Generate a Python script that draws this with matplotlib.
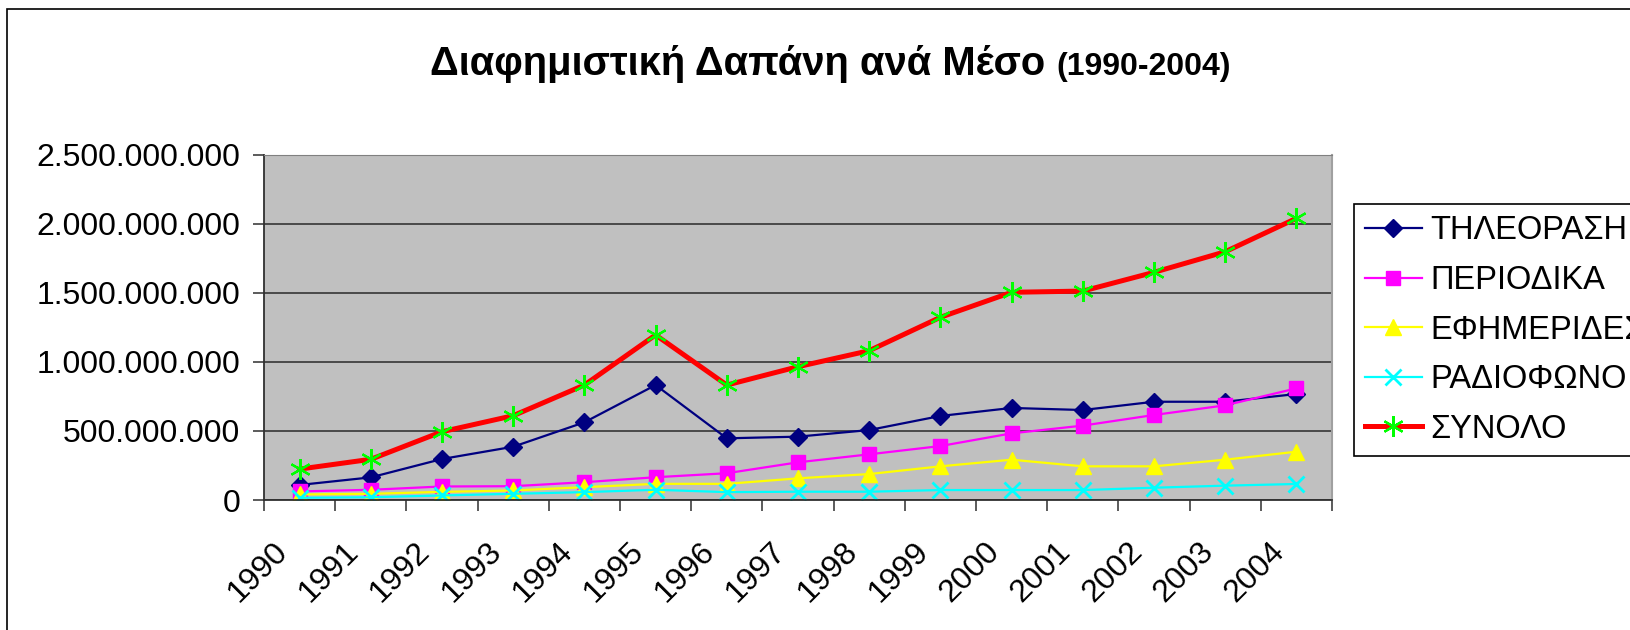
import matplotlib
matplotlib.use("Agg")
import matplotlib.pyplot as plt
import matplotlib.transforms as mtransforms
from matplotlib.ticker import FuncFormatter, FixedLocator
from matplotlib.patches import Rectangle

plt.rcParams['font.family'] = ['Liberation Sans', 'DejaVu Sans']

# Data
years = ["1990", "1991", "1992", "1993", "1994", "1995", "1996", "1997",
         "1998", "1999", "2000", "2001", "2002", "2003", "2004"]
tv = [109e6, 164e6, 297e6, 386e6, 563e6, 833e6, 447e6, 459e6,
      507e6, 609e6, 667e6, 652e6, 712e6, 712e6, 768e6]
magazines = [62e6, 74e6, 98e6, 100e6, 129e6, 165e6, 194e6, 273e6,
             331e6, 391e6, 483e6, 539e6, 616e6, 686e6, 809e6]
newspapers = [40e6, 45e6, 59e6, 69e6, 93e6, 117e6, 117e6, 157e6,
              188e6, 244e6, 292e6, 244e6, 244e6, 292e6, 350e6]
radio = [16e6, 20e6, 33e6, 45e6, 57e6, 74e6, 57e6, 60e6,
         60e6, 72e6, 72e6, 72e6, 89e6, 104e6, 116e6]
total = [224e6, 295e6, 495e6, 611e6, 833e6, 1196e6, 833e6, 966e6,
         1082e6, 1324e6, 1505e6, 1514e6, 1650e6, 1799e6, 2041e6]
labels = ["ΤΗΛΕΟΡΑΣΗ", "ΠΕΡΙΟΔΙΚΑ", "ΕΦΗΜΕΡΙΔΕΣ", "ΡΑΔΙΟΦΩΝΟ", "ΣΥΝΟΛΟ"]

W, H = 1631, 630
fig = plt.figure(figsize=(W / 100, H / 100), dpi=100)
ax = fig.add_axes([264 / W, 1 - 500 / H, (1332 - 264) / W, (500 - 155) / H])
ax.set_facecolor("#C0C0C0")

x = list(range(len(years)))
ax.plot(x, tv, color="#000080", lw=1.6, marker="D", ms=9, label=labels[0])
ax.plot(x, magazines, color="#FF00FF", lw=1.6, marker="s", ms=10, label=labels[1])
ax.plot(x, newspapers, color="#FFFF00", lw=1.6, marker="^", ms=11, label=labels[2])
ax.plot(x, radio, color="#00FFFF", lw=1.6, marker="x", ms=11, mew=2, label=labels[3])
ax.plot(x, total, color="#FF0000", lw=3.6, marker=(6, 2, 0), ms=15, mew=1.6,
        mec="#00FF00", mfc="#00FF00", label=labels[4])

ax.set_xlim(-0.5, len(years) - 0.5)
ax.set_ylim(0, 2.5e9)
ax.set_yticks([0, 5e8, 1e9, 1.5e9, 2e9, 2.5e9])
ax.yaxis.set_major_formatter(FuncFormatter(lambda v, p: f"{int(v):,}".replace(",", ".")))
ax.grid(axis="y", color="#404040", lw=1.3)
ax.set_axisbelow(True)

ax.xaxis.set_major_locator(FixedLocator([i - 0.5 for i in range(len(years) + 1)]))
ax.xaxis.set_minor_locator(FixedLocator(x))
ax.set_xticklabels([], minor=False)
ax.set_xticklabels(years, minor=True, rotation=45, ha="right", va="top",
                   rotation_mode="anchor")
ax.tick_params(axis="x", which="major", length=8, width=1.2, color="#404040")
ax.tick_params(axis="x", which="minor", length=0, pad=26, labelsize=23)
ax.tick_params(axis="y", length=8, width=1.2, color="#404040", pad=9, labelsize=23)

# Excel puts the rotated labels a bit left of the category centre
shift = mtransforms.ScaledTranslation(-27 / 100, 0, fig.dpi_scale_trans)
for lab in ax.get_xticklabels(minor=True):
    lab.set_transform(lab.get_transform() + shift)

for side in ["left", "bottom"]:
    ax.spines[side].set_color("#303030")
    ax.spines[side].set_linewidth(1.3)
ax.spines["top"].set_color("#808080")
ax.spines["right"].set_color("#A0A0A0")
ax.spines["right"].set_linewidth(1.5)

leg = fig.legend(loc="upper left", bbox_to_anchor=(1354 / W, 1 - 204 / H),
                 bbox_transform=fig.transFigure, fontsize=23.5, frameon=True,
                 fancybox=False, edgecolor="black", framealpha=1,
                 handlelength=1.72, handletextpad=0.27, labelspacing=0.57,
                 borderpad=0.35, borderaxespad=0)
leg.get_frame().set_linewidth(1.2)

fig.text(1045 / W, 1 - 75 / H, "Διαφημιστική Δαπάνη ανά Μέσο", ha="right",
         va="baseline", fontsize=28.8, fontweight="bold")
fig.text(1056 / W, 1 - 75 / H, "(1990-2004)", ha="left", va="baseline",
         fontsize=23, fontweight="bold")

fig.patches.append(Rectangle((7 / W, -0.1), 1.2, 1.1 - 9 / H, transform=fig.transFigure,
                             fill=False, edgecolor="black", lw=1.2))

fig.savefig("out.png", dpi=100)
